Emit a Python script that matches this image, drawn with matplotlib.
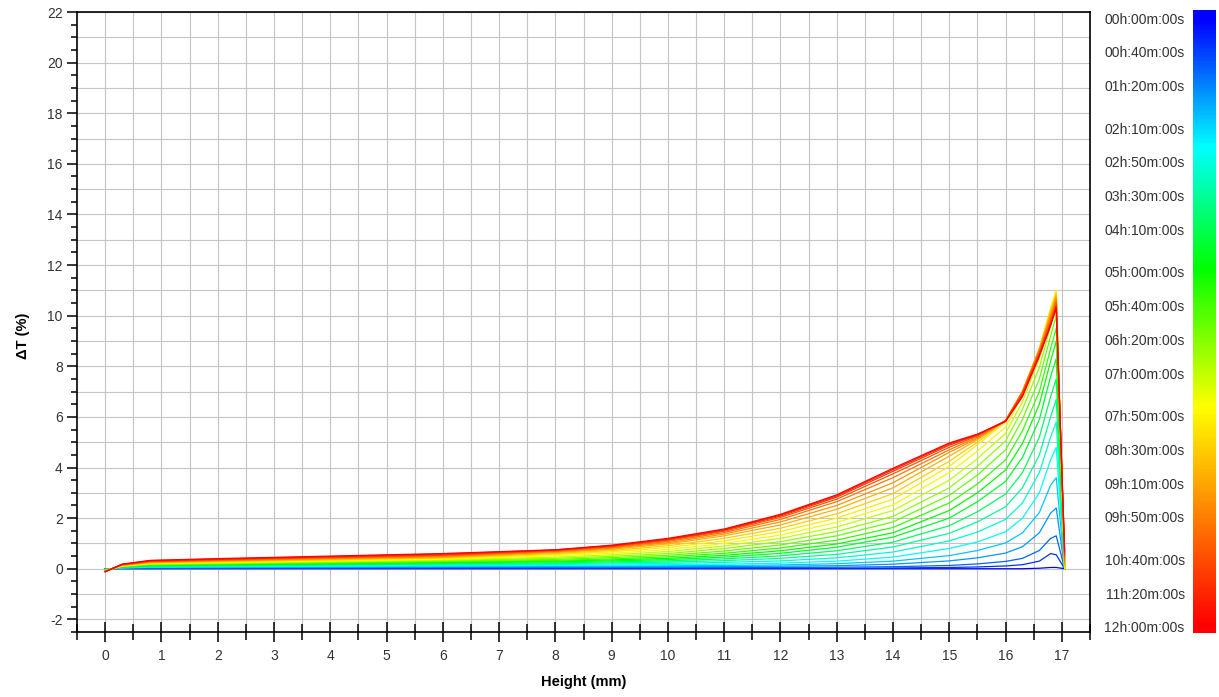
import numpy as np
import matplotlib
matplotlib.use("Agg")
import matplotlib.pyplot as plt
from matplotlib.colors import LinearSegmentedColormap
from matplotlib.ticker import MultipleLocator

plt.rcParams['font.family'] = ['Liberation Sans', 'DejaVu Sans']
plt.rcParams['axes.unicode_minus'] = False

heights_mm = [0, 0.3, 0.8, 2, 4, 6, 8, 9, 10, 11, 12, 13, 14, 15, 15.5, 16,
              16.3, 16.6, 16.8, 16.9, 17.05]

# scan times (hours) of the drawn profiles
scan_hours = [0, 0.5, 1, 1.5, 2, 2.5, 3, 3.5, 4, 4.5, 5, 5.5, 6, 6.5, 7, 7.5,
              8, 8.5, 9, 9.5, 10, 10.5, 11, 11.5, 12]

# delta T (%) for each scan, one row per time, one value per height
delta_t = [
    [0, 0, 0, 0, 0, 0, 0, 0, 0, 0, 0, 0, 0, 0, 0, 0, 0, 0.02, 0.05, 0.05, 0],
    [0, 0.01, 0.01, 0.02, 0.02, 0.02, 0.02, 0.02, 0.02, 0.02, 0.02, 0.02, 0.03, 0.05, 0.07, 0.11, 0.16, 0.3, 0.6, 0.55, 0],
    [-0.01, 0.02, 0.03, 0.03, 0.04, 0.05, 0.05, 0.05, 0.05, 0.05, 0.05, 0.06, 0.08, 0.13, 0.19, 0.29, 0.41, 0.72, 1.2, 1.3, 0],
    [-0.02, 0.02, 0.04, 0.05, 0.06, 0.07, 0.08, 0.08, 0.08, 0.09, 0.1, 0.12, 0.18, 0.31, 0.43, 0.62, 0.87, 1.42, 2.2, 2.4, 0],
    [-0.02, 0.03, 0.06, 0.07, 0.08, 0.1, 0.11, 0.11, 0.12, 0.13, 0.15, 0.2, 0.3, 0.52, 0.72, 1.02, 1.42, 2.22, 3.3, 3.6, 0],
    [-0.03, 0.04, 0.07, 0.08, 0.1, 0.12, 0.14, 0.15, 0.16, 0.18, 0.22, 0.3, 0.46, 0.8, 1.06, 1.46, 2.0, 3.0, 4.3, 4.8, 0],
    [-0.03, 0.05, 0.08, 0.1, 0.13, 0.15, 0.17, 0.19, 0.21, 0.25, 0.31, 0.43, 0.66, 1.1, 1.45, 1.95, 2.6, 3.8, 5.2, 5.8, 0],
    [-0.04, 0.05, 0.1, 0.12, 0.15, 0.18, 0.2, 0.23, 0.26, 0.32, 0.41, 0.57, 0.86, 1.4, 1.85, 2.45, 3.2, 4.5, 6.0, 6.7, 0],
    [-0.04, 0.06, 0.11, 0.13, 0.17, 0.2, 0.23, 0.27, 0.31, 0.39, 0.51, 0.71, 1.05, 1.7, 2.25, 2.95, 3.8, 5.2, 6.8, 7.5, 0],
    [-0.05, 0.07, 0.12, 0.15, 0.19, 0.23, 0.27, 0.31, 0.36, 0.46, 0.61, 0.85, 1.25, 2.0, 2.65, 3.45, 4.4, 5.9, 7.6, 8.3, 0],
    [-0.05, 0.08, 0.14, 0.17, 0.21, 0.25, 0.3, 0.35, 0.41, 0.53, 0.71, 0.98, 1.42, 2.3, 3.0, 3.9, 4.95, 6.5, 8.2, 9.0, 0],
    [-0.06, 0.08, 0.15, 0.18, 0.23, 0.28, 0.33, 0.39, 0.47, 0.61, 0.82, 1.13, 1.63, 2.6, 3.35, 4.3, 5.45, 7.0, 8.7, 9.5, 0],
    [-0.06, 0.09, 0.17, 0.2, 0.25, 0.3, 0.37, 0.44, 0.53, 0.7, 0.94, 1.3, 1.85, 2.9, 3.7, 4.7, 5.9, 7.5, 9.2, 10.0, 0],
    [-0.07, 0.1, 0.18, 0.22, 0.27, 0.33, 0.41, 0.49, 0.6, 0.8, 1.07, 1.47, 2.07, 3.2, 4.05, 5.05, 6.3, 7.95, 9.6, 10.4, 0],
    [-0.07, 0.11, 0.19, 0.23, 0.29, 0.35, 0.46, 0.55, 0.68, 0.9, 1.2, 1.65, 2.3, 3.5, 4.35, 5.35, 6.6, 8.3, 9.95, 10.75, 0],
    [-0.08, 0.11, 0.21, 0.25, 0.31, 0.38, 0.51, 0.61, 0.76, 1.0, 1.33, 1.83, 2.52, 3.8, 4.65, 5.6, 6.85, 8.55, 10.2, 11.0, 0],
    [-0.08, 0.12, 0.22, 0.27, 0.33, 0.4, 0.56, 0.67, 0.84, 1.1, 1.47, 2.0, 2.75, 4.05, 4.9, 5.8, 7.0, 8.7, 10.3, 11.0, 0.05],
    [-0.08, 0.13, 0.23, 0.28, 0.35, 0.43, 0.6, 0.72, 0.91, 1.2, 1.6, 2.17, 2.97, 4.25, 5.0, 5.85, 7.0, 8.7, 10.2, 10.9, 0.1],
    [-0.09, 0.14, 0.25, 0.3, 0.38, 0.45, 0.64, 0.77, 0.98, 1.3, 1.73, 2.35, 3.2, 4.45, 5.1, 5.85, 7.0, 8.7, 10.1, 10.8, 0.15],
    [-0.1, 0.14, 0.26, 0.32, 0.4, 0.48, 0.67, 0.81, 1.03, 1.37, 1.85, 2.5, 3.4, 4.6, 5.15, 5.85, 7.0, 8.65, 10.0, 10.7, 0.2],
    [-0.1, 0.15, 0.28, 0.33, 0.42, 0.5, 0.69, 0.84, 1.08, 1.43, 1.95, 2.65, 3.6, 4.7, 5.2, 5.85, 7.0, 8.6, 9.9, 10.6, 0.3],
    [-0.11, 0.16, 0.29, 0.35, 0.44, 0.53, 0.71, 0.87, 1.12, 1.48, 2.03, 2.75, 3.75, 4.8, 5.25, 5.85, 6.95, 8.55, 9.8, 10.5, 0.4],
    [-0.11, 0.17, 0.3, 0.37, 0.46, 0.55, 0.73, 0.89, 1.15, 1.52, 2.08, 2.83, 3.85, 4.88, 5.28, 5.85, 6.9, 8.5, 9.7, 10.4, 0.5],
    [-0.12, 0.17, 0.32, 0.38, 0.48, 0.58, 0.74, 0.91, 1.17, 1.54, 2.12, 2.88, 3.92, 4.93, 5.3, 5.83, 6.85, 8.45, 9.65, 10.35, 0.6],
    [-0.12, 0.18, 0.33, 0.4, 0.5, 0.6, 0.75, 0.93, 1.2, 1.57, 2.15, 2.92, 3.97, 4.97, 5.32, 5.82, 6.8, 8.4, 9.6, 10.3, 0.7],
]

# colour bar labels (minutes from start)
cbar_minutes = [0, 40, 80, 130, 170, 210, 250, 300, 340, 380, 420, 470, 510,
                550, 590, 640, 680, 720]
cbar_labels = ['00h:00m:00s', '00h:40m:00s', '01h:20m:00s', '02h:10m:00s',
               '02h:50m:00s', '03h:30m:00s', '04h:10m:00s', '05h:00m:00s',
               '05h:40m:00s', '06h:20m:00s', '07h:00m:00s', '07h:50m:00s',
               '08h:30m:00s', '09h:10m:00s', '09h:50m:00s', '10h:40m:00s',
               '11h:20m:00s', '12h:00m:00s']

cmap = LinearSegmentedColormap.from_list(
    'scan', [(0.0, '#0000ff'), (0.21, '#00ffff'), (0.41, '#00ff00'),
             (0.64, '#ffff00'), (1.0, '#ff0000')])

W, H = 1219, 697
fig = plt.figure(figsize=(W / 100, H / 100), dpi=100)
ax = fig.add_axes([77 / W, 1 - 632 / H, 1013 / W, 620 / H])

t_max = 12.0
for t, row in zip(scan_hours, delta_t):
    ax.plot(heights_mm, row, color=cmap(t / t_max), lw=0.9, zorder=3)

ax.set_xlim(-0.5, 17.5)
ax.set_ylim(-2.5, 22)

# grid: every 0.5 mm vertically, every 1 % horizontally
for gx in np.arange(0, 17.51, 0.5):
    ax.axvline(gx, color='#c4c4c4', lw=0.8, zorder=1)
for gy in range(-2, 23):
    ax.axhline(gy, color='#c4c4c4', lw=0.8, zorder=1)

ax.xaxis.set_major_locator(MultipleLocator(1))
ax.xaxis.set_minor_locator(MultipleLocator(0.5))
ax.yaxis.set_major_locator(MultipleLocator(2))
ax.yaxis.set_minor_locator(MultipleLocator(0.5))
ax.set_xticks(range(0, 18))
ax.tick_params(axis='x', which='major', direction='inout', length=14.4, width=1.1,
               pad=5, labelsize=10, labelcolor='#333333')
ax.tick_params(axis='x', which='minor', direction='inout', length=11.5, width=1.1)
ax.tick_params(axis='y', which='major', direction='out', length=7.2, width=1.1,
               pad=3, labelsize=10, labelcolor='#333333')
ax.tick_params(axis='y', which='minor', direction='out', length=4.5, width=1.1)
for sp in ax.spines.values():
    sp.set_linewidth(1.2)

ax.set_xlabel('Height (mm)', fontsize=10.5, fontweight='bold')
ax.xaxis.set_label_coords(0.5, -0.069)
ax.set_ylabel('ΔT (%)', fontsize=10.5, fontweight='bold')
ax.yaxis.set_label_coords(-0.046, 0.477)

# colour bar
cax = fig.add_axes([1193 / W, 1 - 633 / H, 23 / W, 623 / H])
top_h, bot_h = -0.16, 12.12
grad = np.clip(np.linspace(top_h, bot_h, 400) / t_max, 0, 1).reshape(-1, 1)
cax.imshow(grad, aspect='auto', cmap=cmap, vmin=0, vmax=1,
           extent=(0, 1, bot_h, top_h))
cax.set_xticks([])
cax.set_yticks([m / 60 for m in cbar_minutes])
cax.set_yticklabels(cbar_labels)
cax.tick_params(axis='y', length=0, pad=6, labelsize=10, labelcolor='#333333')
for sp in cax.spines.values():
    sp.set_visible(False)

fig.savefig('out.png', dpi=100)
